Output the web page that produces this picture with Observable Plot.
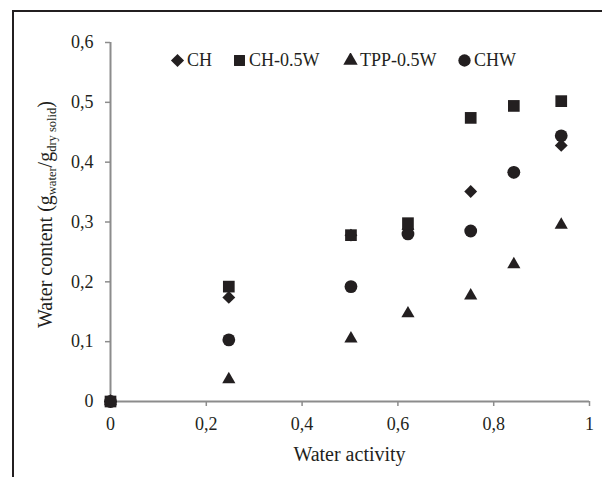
<!DOCTYPE html>
<html>
<head>
<meta charset="utf-8">
<script src="https://cdn.jsdelivr.net/npm/d3@7"></script>
<script src="https://cdn.jsdelivr.net/npm/@observablehq/plot@0.6"></script>
<style>
  html, body { margin: 0; padding: 0; background: #fff; }
  #wrap { position: relative; width: 602px; height: 477px; overflow: hidden; font-family: "Liberation Serif", "Times New Roman", Times, serif; color: #231f20; }
  #frame { position: absolute; left: 12px; top: 10px; width: 620px; height: 500px; border-top: 2px solid #231f20; border-left: 2px solid #231f20; box-sizing: border-box; }
  #chart { position: absolute; left: 0; top: 0; }
  .leg { position: absolute; top: 49px; display: flex; align-items: center; font-size: 18px; line-height: 22px; white-space: nowrap; }
  .leg svg { margin-right: 2px; }
</style>
</head>
<body>
<div id="wrap">
  <div id="frame"></div>
  <div id="chart"></div>
</div>
<script>
// ---- data ----
const waterActivity = [0, 0.247, 0.502, 0.621, 0.752, 0.842, 0.941];
const seriesCH      = [0, 0.174, 0.278, 0.288, 0.351, 0.383, 0.428];
const seriesCH05W   = [0, 0.192, 0.278, 0.298, 0.474, 0.494, 0.502];
const seriesTPP05W  = [0, 0.037, 0.105, 0.147, 0.177, 0.229, 0.295];
const seriesCHW     = [0, 0.103, 0.192, 0.280, 0.285, 0.383, 0.444];
const seriesNames   = ["CH", "CH-0.5W", "TPP-0.5W", "CHW"];
const xTicks = [0, 0.2, 0.4, 0.6, 0.8, 1];
const yTicks = [0, 0.1, 0.2, 0.3, 0.4, 0.5, 0.6];

const ink = "#231f20";
const axisGray = "#8c8c8c";
const fmt = d => (d === 0 || d === 1) ? String(d) : d3.format(".1f")(d).replace(".", ",");

const toRows = vals => waterActivity.map((a, i) => ({aw: a, wc: vals[i]}));

const specs = [
  {name: seriesNames[0], vals: seriesCH,     symbol: "diamond2", r: 5.8},
  {name: seriesNames[3], vals: seriesCHW,    symbol: "circle",   r: 6.4},
  {name: seriesNames[2], vals: seriesTPP05W, symbol: "triangle", r: 4.9},
  {name: seriesNames[1], vals: seriesCH05W,  symbol: "square",   r: 6.6}
];

const plot = Plot.plot({
  width: 602,
  height: 477,
  marginLeft: 110,
  marginRight: 13,
  marginTop: 42,
  marginBottom: 76,
  x: {domain: [0, 1]},
  y: {domain: [0, 0.6]},
  style: {fontFamily: "'Liberation Serif', 'Times New Roman', Times, serif", fontSize: "18px", color: ink, background: "transparent", overflow: "visible"},
  marks: [
    Plot.axisX(xTicks, {tickSize: 5, tickPadding: 11, tickFormat: fmt, stroke: axisGray, strokeWidth: 1.5, fill: ink, label: null}),
    Plot.axisY(yTicks, {tickSize: 5, tickPadding: 12, tickFormat: fmt, stroke: axisGray, strokeWidth: 1.5, fill: ink, label: null}),
    Plot.ruleX([0], {stroke: axisGray, strokeWidth: 2}),
    Plot.ruleY([0], {stroke: axisGray, strokeWidth: 2}),
    ...specs.map(s => Plot.dot(toRows(s.vals), {x: "aw", y: "wc", symbol: () => s.symbol, r: s.r, fill: ink, stroke: "none"}))
  ]
});

document.getElementById("chart").appendChild(plot);

const xs = plot.scale("x"), ys = plot.scale("y");
const svg = d3.select(plot);

// x axis title
svg.append("text")
  .attr("x", xs.apply(0.5))
  .attr("y", 461)
  .attr("text-anchor", "middle")
  .attr("font-size", 20)
  .attr("fill", ink)
  .text("Water activity");

// y axis title with subscripts
const yt = svg.append("text")
  .attr("transform", `translate(52,${ys.apply(0.3) - 7}) rotate(-90)`)
  .attr("text-anchor", "middle")
  .attr("font-size", 20)
  .attr("fill", ink);
yt.append("tspan").text("Water content (g");
yt.append("tspan").attr("font-size", 12.5).attr("dy", 4).text("water");
yt.append("tspan").attr("dy", -4).text("/g");
yt.append("tspan").attr("font-size", 12.5).attr("dy", 4).text("dry solid");
yt.append("tspan").attr("dy", -4).text(")");

// legend (HTML)
const legendItems = [
  {name: seriesNames[0], symbol: d3.symbolDiamond2, size: 110, left: 170},
  {name: seriesNames[1], symbol: d3.symbolSquare, size: 120, left: 232},
  {name: seriesNames[2], symbol: d3.symbolTriangle, size: 90, left: 343},
  {name: seriesNames[3], symbol: d3.symbolCircle, size: 120, left: 457}
];
const wrap = d3.select("#wrap");
legendItems.forEach(it => {
  const div = wrap.append("div").attr("class", "leg").style("left", it.left + "px");
  const s = div.append("svg").attr("width", 15).attr("height", 15);
  s.append("path").attr("transform", "translate(7.5,7.5)").attr("d", d3.symbol(it.symbol, it.size)()).attr("fill", ink);
  div.append("span").text(it.name);
});
</script>
</body>
</html>
